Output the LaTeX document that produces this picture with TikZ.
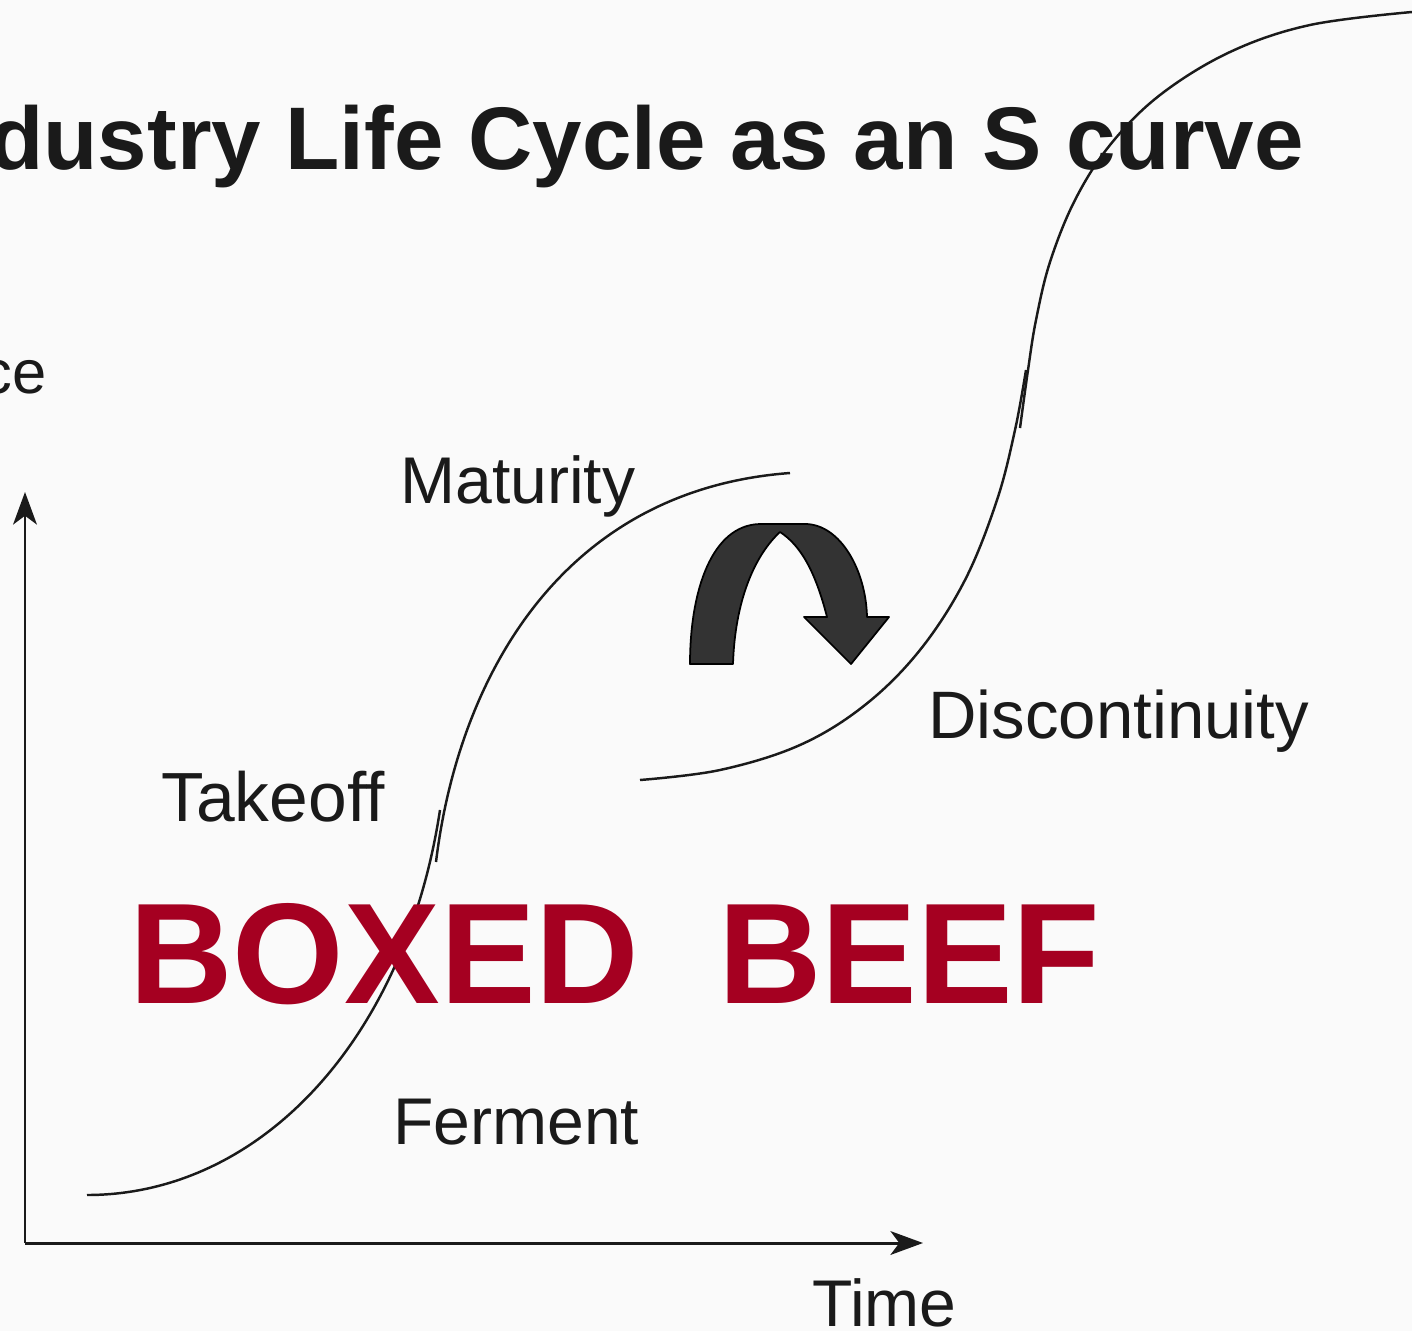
\documentclass[tikz,border=0pt]{standalone}
\usepackage{fontspec}
\setmainfont{Liberation Sans}
\usetikzlibrary{arrows.meta}
\definecolor{beefred}{HTML}{A50021}
\definecolor{ink}{HTML}{1A1A1A}

\begin{document}
\begin{tikzpicture}[x=0.02cm,y=-0.02cm,
  lbl/.style={anchor=base west, inner sep=0pt, text=ink,
              font=\fontsize{37.6}{40}\selectfont},
  axis/.style={line width=1.7pt, draw=ink,
               -{Stealth[length=18.5pt,width=13.5pt,inset=5pt]}},
  scurve/.style={line width=1.4pt, draw=ink},
  bigarrow/.style={fill=black!80, draw=black, line width=1pt, line join=round}]

% page and frame
\fill[black!2] (0,0) rectangle (1412,1331);
\useasboundingbox (0,0) rectangle (1412,1331);

% title
\node[anchor=base west, inner sep=0pt, text=ink,
      font=\fontsize{50.6}{54}\selectfont\bfseries] (title) at (-11,170)
  {dustry Life Cycle as an S curve};

% axes
\coordinate (origin) at (25,1243);
\coordinate (ytip) at (25,492);
\coordinate (xtip) at (923,1243);
\draw[axis] (origin) -- (ytip);
\draw[axis] (origin) -- (xtip);

% axis labels
\node[lbl, font=\fontsize{35}{38}\selectfont] (ylabel) at (-19,393) {ce};
\node[lbl] (xlabel) at (812,1326) {Time};

% first S curve, drawn in two overlapping strokes
\draw[scurve] (87,1195) .. controls (260,1195) and (405,1040) .. (440,810);
\draw[scurve] (436,862) .. controls (458,680) and (560,490) .. (790,473);

% second S curve, drawn in two overlapping strokes
\draw[scurve] plot[smooth, tension=0.6] coordinates
  {(640,780) (720,770) (800,745) (865,705) (920,650) (965,580)
   (997,500) (1015,430) (1026,370)};
\draw[scurve] plot[smooth, tension=0.6] coordinates
  {(1020,428) (1028,370) (1036,320) (1050,262) (1075,200) (1110,145)
   (1160,95) (1230,52) (1310,25) (1412,12)};

% stage labels
\node[lbl] (maturity) at (400,503) {Maturity};
\node[lbl, font=\fontsize{39.6}{42}\selectfont] (takeoff) at (161,821) {Takeoff};
\node[lbl] (ferment) at (393,1144) {Ferment};
\node[lbl, font=\fontsize{38.2}{41}\selectfont] (discont) at (928,738) {Discontinuity};

% jump arrow between the curves
\filldraw[bigarrow] (690,664)
  .. controls (690,590) and (712,525) .. (760,524) -- (805,524)
  .. controls (840,524) and (866,570) .. (867,617)
  -- (889,617) -- (851,664) -- (804,617) -- (827,617)
  .. controls (815,570) and (800,545) .. (780,532)
  .. controls (755,555) and (735,600) .. (733,664) -- cycle;

% overlay caption
\node[anchor=base west, inner sep=0pt, text=beefred,
      font=\fontsize{81.6}{86}\selectfont\bfseries] (boxed) at (129,1003)
  {BOXED\hspace{0.55em}BEEF};
\end{tikzpicture}
\end{document}
